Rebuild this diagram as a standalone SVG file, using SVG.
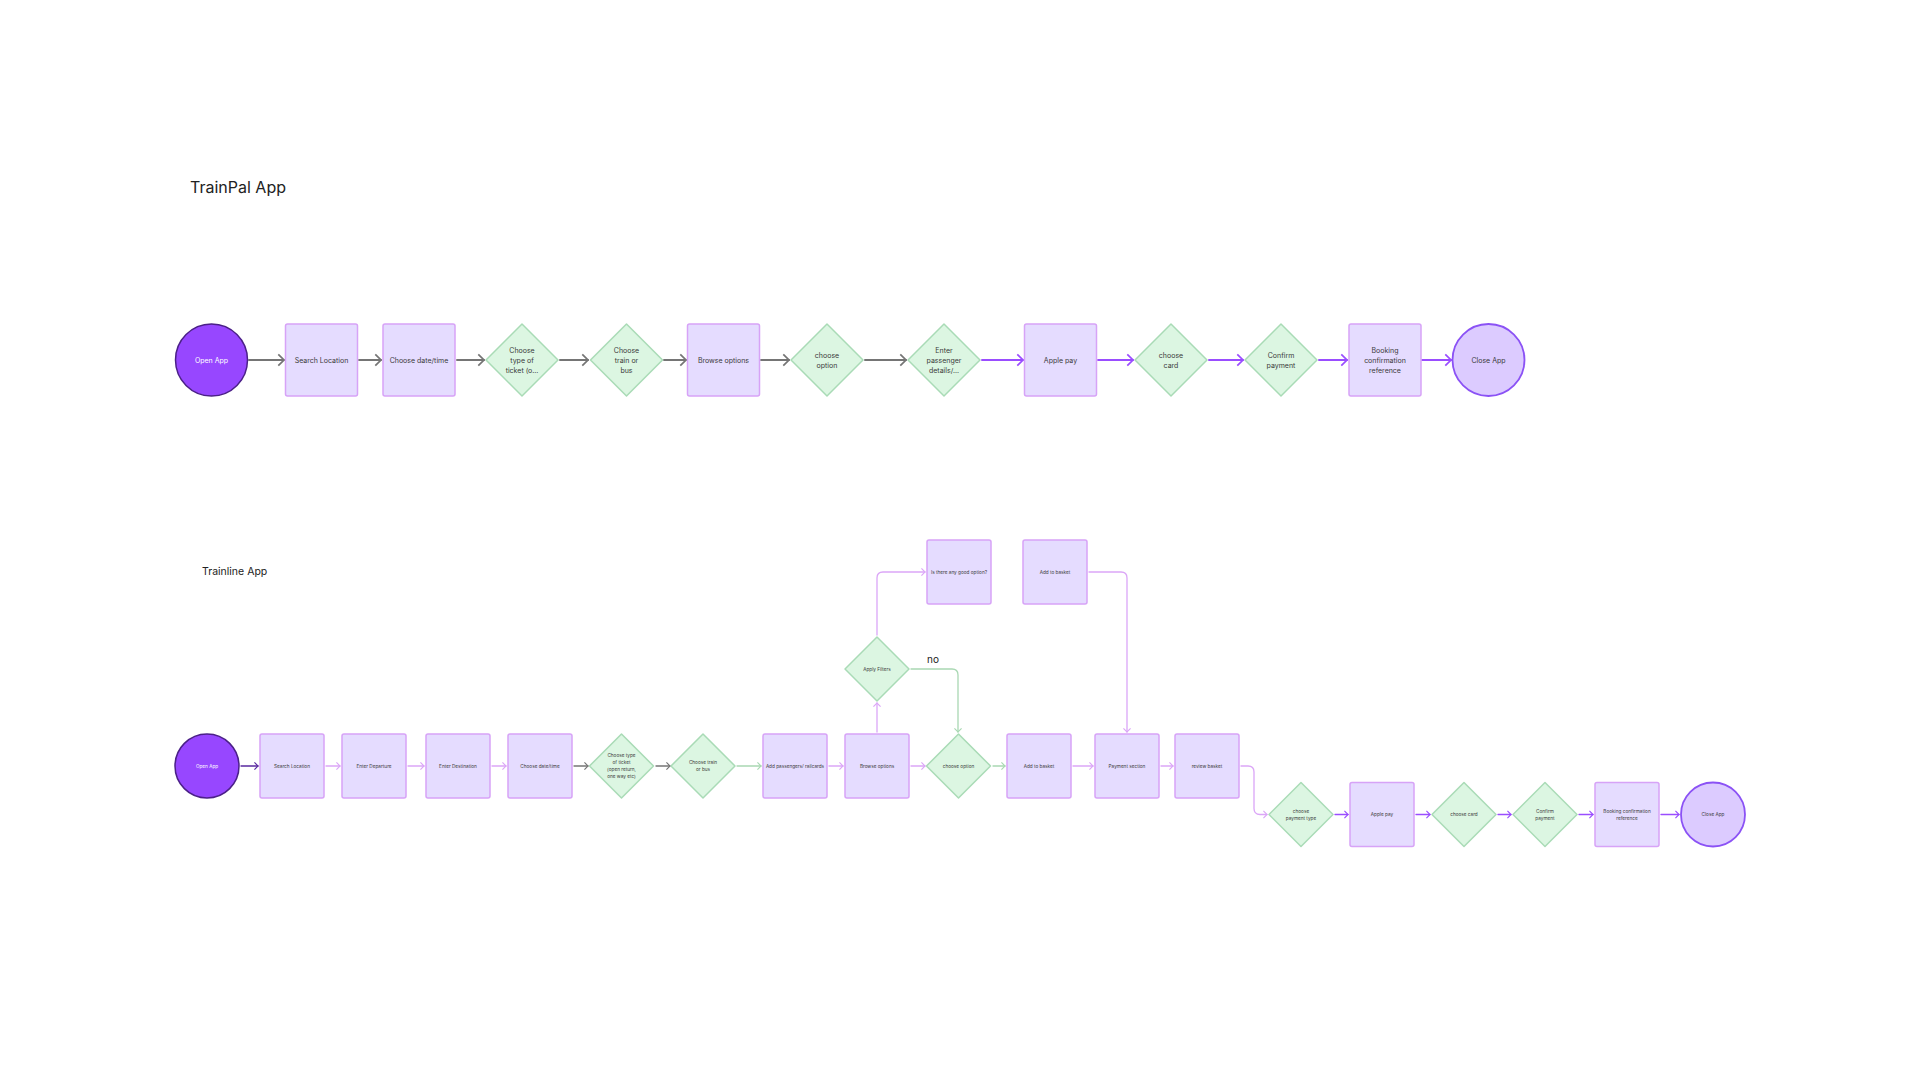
<svg xmlns="http://www.w3.org/2000/svg" width="1920" height="1080" viewBox="0 0 1920 1080">
<defs>
<style>
.box{fill:#e5dcff;stroke:#d7a3f7;stroke-width:1.5}
.dia{fill:#dcf6e2;stroke:#a9dbb6;stroke-width:1.5}
.start{fill:#9747ff;stroke:#4b2088;stroke-width:1.5}
.end{fill:#dccbff;stroke:#8b52f5;stroke-width:1.8}
.t{font-family:Inter,"Liberation Sans",sans-serif;fill:#3a3a3a;text-anchor:middle}
.t7{font-size:7px}
.t5{font-size:4.7px}
.w{fill:#ffffff}
.title{font-family:Inter,"Liberation Sans",sans-serif;fill:#222}
.c{fill:none;stroke-linecap:round;stroke-linejoin:round}
.gray{stroke:#757575;stroke-width:2}
.pur{stroke:#9a4dff;stroke-width:2}
.g2{stroke:#757575;stroke-width:1.3}
.p2{stroke:#9a4dff;stroke-width:1.3}
.lp{stroke:#dba6f7;stroke-width:1.3}
.gr{stroke:#a9d8b3;stroke-width:1.3}
.dp{stroke:#5a2aa0;stroke-width:1.3}
</style>
<marker id="mg" viewBox="0 0 7 12" refX="6" refY="6" markerWidth="8" markerHeight="13.7" markerUnits="userSpaceOnUse" orient="auto"><path d="M1,1 L6,6 L1,11" fill="none" stroke="#757575" stroke-width="1.5"/></marker>
<marker id="mp" viewBox="0 0 7 12" refX="6" refY="6" markerWidth="8" markerHeight="13.7" markerUnits="userSpaceOnUse" orient="auto"><path d="M1,1 L6,6 L1,11" fill="none" stroke="#9a4dff" stroke-width="1.5"/></marker>
<marker id="sg" viewBox="0 0 7 12" refX="6" refY="6" markerWidth="5" markerHeight="8.6" markerUnits="userSpaceOnUse" orient="auto"><path d="M1,1 L6,6 L1,11" fill="none" stroke="#757575" stroke-width="1.6"/></marker>
<marker id="sp" viewBox="0 0 7 12" refX="6" refY="6" markerWidth="5" markerHeight="8.6" markerUnits="userSpaceOnUse" orient="auto"><path d="M1,1 L6,6 L1,11" fill="none" stroke="#9a4dff" stroke-width="1.6"/></marker>
<marker id="slp" viewBox="0 0 7 12" refX="6" refY="6" markerWidth="5" markerHeight="8.6" markerUnits="userSpaceOnUse" orient="auto"><path d="M1,1 L6,6 L1,11" fill="none" stroke="#dba6f7" stroke-width="1.6"/></marker>
<marker id="sgr" viewBox="0 0 7 12" refX="6" refY="6" markerWidth="5" markerHeight="8.6" markerUnits="userSpaceOnUse" orient="auto"><path d="M1,1 L6,6 L1,11" fill="none" stroke="#a9d8b3" stroke-width="1.6"/></marker>
<marker id="sdp" viewBox="0 0 7 12" refX="6" refY="6" markerWidth="5" markerHeight="8.6" markerUnits="userSpaceOnUse" orient="auto"><path d="M1,1 L6,6 L1,11" fill="none" stroke="#5a2aa0" stroke-width="1.6"/></marker>
</defs>
<rect width="1920" height="1080" fill="#ffffff"/>

<text class="title" x="190" y="193" font-size="16">TrainPal App</text>
<text class="title" x="202" y="575" font-size="10.5">Trainline App</text>

<!-- connectors -->
<g id="connectors">
<path class="c gray" d="M249,360 H284" marker-end="url(#mg)"/>
<path class="c gray" d="M359,360 H381" marker-end="url(#mg)"/>
<path class="c gray" d="M457,360 H484" marker-end="url(#mg)"/>
<path class="c gray" d="M560,360 H588" marker-end="url(#mg)"/>
<path class="c gray" d="M664,360 H686" marker-end="url(#mg)"/>
<path class="c gray" d="M761,360 H789" marker-end="url(#mg)"/>
<path class="c gray" d="M865,360 H906" marker-end="url(#mg)"/>
<path class="c pur" d="M982,360 H1023" marker-end="url(#mp)"/>
<path class="c pur" d="M1098,360 H1133" marker-end="url(#mp)"/>
<path class="c pur" d="M1209,360 H1243" marker-end="url(#mp)"/>
<path class="c pur" d="M1319,360 H1347" marker-end="url(#mp)"/>
<path class="c pur" d="M1422,360 H1451" marker-end="url(#mp)"/>

<path class="c dp" d="M241,766 H258" marker-end="url(#sdp)"/>
<path class="c lp" d="M326,766 H340" marker-end="url(#slp)"/>
<path class="c lp" d="M408,766 H424" marker-end="url(#slp)"/>
<path class="c lp" d="M492,766 H506" marker-end="url(#slp)"/>
<path class="c g2" d="M574,766 H588" marker-end="url(#sg)"/>
<path class="c g2" d="M656,766 H670" marker-end="url(#sg)"/>
<path class="c gr" d="M737,766 H761" marker-end="url(#sgr)"/>
<path class="c lp" d="M829,766 H843" marker-end="url(#slp)"/>
<path class="c lp" d="M911,766 H925" marker-end="url(#slp)"/>
<path class="c gr" d="M993,766 H1005" marker-end="url(#sgr)"/>
<path class="c lp" d="M1073,766 H1093" marker-end="url(#slp)"/>
<path class="c lp" d="M1161,766 H1173" marker-end="url(#slp)"/>
<path class="c lp" d="M1241,766 H1248 Q1254,766 1254,772 V808.5 Q1254,814.5 1260,814.5 H1267" marker-end="url(#slp)"/>
<path class="c p2" d="M1335,814.5 H1348" marker-end="url(#sp)"/>
<path class="c p2" d="M1416,814.5 H1430" marker-end="url(#sp)"/>
<path class="c p2" d="M1498,814.5 H1511" marker-end="url(#sp)"/>
<path class="c p2" d="M1579,814.5 H1593" marker-end="url(#sp)"/>
<path class="c p2" d="M1661,814.5 H1679" marker-end="url(#sp)"/>
<path class="c lp" d="M877,732 V703" marker-end="url(#slp)"/>
<path class="c lp" d="M877,635 V578 Q877,572 883,572 H925" marker-end="url(#slp)"/>
<path class="c gr" d="M911,669 H952 Q958,669 958,675 V732" marker-end="url(#sgr)"/>
<path class="c lp" d="M1089,572 H1121 Q1127,572 1127,578 V732" marker-end="url(#slp)"/>
<text class="title" x="927" y="663" font-size="10">no</text>
</g>

<!-- TrainPal nodes -->
<g id="tp-open"><circle class="start" cx="211.5" cy="360" r="36"/><text class="t t7 w" x="211.5" y="362.5">Open App</text></g>
<g id="tp-search"><rect class="box" x="285.5" y="324" width="72" height="72" rx="2"/><text class="t t7" x="321.5" y="362.5">Search Location</text></g>
<g id="tp-date"><rect class="box" x="383" y="324" width="72" height="72" rx="2"/><text class="t t7" x="419" y="362.5">Choose date/time</text></g>
<g id="tp-ticket"><path class="dia" d="M522,324 L558,360 L522,396 L486,360 Z" stroke-linejoin="round"/><text class="t t7" x="522" y="352.5">Choose</text><text class="t t7" x="522" y="362.5">type of</text><text class="t t7" x="522" y="372.5">ticket (o...</text></g>
<g id="tp-train"><path class="dia" d="M626.5,324 L662.5,360 L626.5,396 L590.5,360 Z" stroke-linejoin="round"/><text class="t t7" x="626.5" y="352.5">Choose</text><text class="t t7" x="626.5" y="362.5">train or</text><text class="t t7" x="626.5" y="372.5">bus</text></g>
<g id="tp-browse"><rect class="box" x="687.5" y="324" width="72" height="72" rx="2"/><text class="t t7" x="723.5" y="362.5">Browse options</text></g>
<g id="tp-option"><path class="dia" d="M827,324 L863,360 L827,396 L791,360 Z" stroke-linejoin="round"/><text class="t t7" x="827" y="357.5">choose</text><text class="t t7" x="827" y="367.5">option</text></g>
<g id="tp-passenger"><path class="dia" d="M944,324 L980,360 L944,396 L908,360 Z" stroke-linejoin="round"/><text class="t t7" x="944" y="352.5">Enter</text><text class="t t7" x="944" y="362.5">passenger</text><text class="t t7" x="944" y="372.5">details/...</text></g>
<g id="tp-apple"><rect class="box" x="1024.5" y="324" width="72" height="72" rx="2"/><text class="t t7" x="1060.5" y="362.5">Apple pay</text></g>
<g id="tp-card"><path class="dia" d="M1171,324 L1207,360 L1171,396 L1135,360 Z" stroke-linejoin="round"/><text class="t t7" x="1171" y="357.5">choose</text><text class="t t7" x="1171" y="367.5">card</text></g>
<g id="tp-confirm"><path class="dia" d="M1281,324 L1317,360 L1281,396 L1245,360 Z" stroke-linejoin="round"/><text class="t t7" x="1281" y="357.5">Confirm</text><text class="t t7" x="1281" y="367.5">payment</text></g>
<g id="tp-booking"><rect class="box" x="1349" y="324" width="72" height="72" rx="2"/><text class="t t7" x="1385" y="352.5">Booking</text><text class="t t7" x="1385" y="362.5">confirmation</text><text class="t t7" x="1385" y="372.5">reference</text></g>
<g id="tp-close"><circle class="end" cx="1488.5" cy="360" r="36"/><text class="t t7" x="1488.5" y="362.5">Close App</text></g>

<!-- Trainline nodes -->
<g id="tl-open"><circle class="start" cx="207" cy="766" r="32"/><text class="t t5 w" x="207" y="767.7">Open App</text></g>
<g id="tl-search"><rect class="box" x="260" y="734" width="64" height="64" rx="2"/><text class="t t5" x="292" y="767.7">Search Location</text></g>
<g id="tl-departure"><rect class="box" x="342" y="734" width="64" height="64" rx="2"/><text class="t t5" x="374" y="767.7">Enter Departure</text></g>
<g id="tl-destination"><rect class="box" x="426" y="734" width="64" height="64" rx="2"/><text class="t t5" x="458" y="767.7">Enter Destination</text></g>
<g id="tl-date"><rect class="box" x="508" y="734" width="64" height="64" rx="2"/><text class="t t5" x="540" y="767.7">Choose date/time</text></g>
<g id="tl-ticket"><path class="dia" d="M621.5,734 L653.5,766 L621.5,798 L589.5,766 Z" stroke-linejoin="round"/><text class="t t5" x="621.5" y="757.2">Choose type</text><text class="t t5" x="621.5" y="764.2">of ticket</text><text class="t t5" x="621.5" y="771.2">(open return,</text><text class="t t5" x="621.5" y="778.2">one way etc)</text></g>
<g id="tl-train"><path class="dia" d="M703,734 L735,766 L703,798 L671,766 Z" stroke-linejoin="round"/><text class="t t5" x="703" y="764.2">Choose train</text><text class="t t5" x="703" y="771.2">or bus</text></g>
<g id="tl-passengers"><rect class="box" x="763" y="734" width="64" height="64" rx="2"/><text class="t t5" x="795" y="767.7">Add passengers/ railcards</text></g>
<g id="tl-browse"><rect class="box" x="845" y="734" width="64" height="64" rx="2"/><text class="t t5" x="877" y="767.7">Browse options</text></g>
<g id="tl-option"><path class="dia" d="M958.5,734 L990.5,766 L958.5,798 L926.5,766 Z" stroke-linejoin="round"/><text class="t t5" x="958.5" y="767.7">choose option</text></g>
<g id="tl-basket"><rect class="box" x="1007" y="734" width="64" height="64" rx="2"/><text class="t t5" x="1039" y="767.7">Add to basket</text></g>
<g id="tl-payment"><rect class="box" x="1095" y="734" width="64" height="64" rx="2"/><text class="t t5" x="1127" y="767.7">Payment section</text></g>
<g id="tl-review"><rect class="box" x="1175" y="734" width="64" height="64" rx="2"/><text class="t t5" x="1207" y="767.7">review basket</text></g>
<g id="tl-filters"><path class="dia" d="M877,637 L909,669 L877,701 L845,669 Z" stroke-linejoin="round"/><text class="t t5" x="877" y="670.7">Apply Filters</text></g>
<g id="tl-good"><rect class="box" x="927" y="540" width="64" height="64" rx="2"/><text class="t t5" x="959" y="573.7">Is there any good option?</text></g>
<g id="tl-basket2"><rect class="box" x="1023" y="540" width="64" height="64" rx="2"/><text class="t t5" x="1055" y="573.7">Add to basket</text></g>
<g id="tl-paytype"><path class="dia" d="M1301,782.5 L1333,814.5 L1301,846.5 L1269,814.5 Z" stroke-linejoin="round"/><text class="t t5" x="1301" y="812.7">choose</text><text class="t t5" x="1301" y="819.7">payment type</text></g>
<g id="tl-apple"><rect class="box" x="1350" y="782.5" width="64" height="64" rx="2"/><text class="t t5" x="1382" y="816.2">Apple pay</text></g>
<g id="tl-card"><path class="dia" d="M1464,782.5 L1496,814.5 L1464,846.5 L1432,814.5 Z" stroke-linejoin="round"/><text class="t t5" x="1464" y="816.2">choose card</text></g>
<g id="tl-confirm"><path class="dia" d="M1545,782.5 L1577,814.5 L1545,846.5 L1513,814.5 Z" stroke-linejoin="round"/><text class="t t5" x="1545" y="812.7">Confirm</text><text class="t t5" x="1545" y="819.7">payment</text></g>
<g id="tl-booking"><rect class="box" x="1595" y="782.5" width="64" height="64" rx="2"/><text class="t t5" x="1627" y="812.7">Booking confirmation</text><text class="t t5" x="1627" y="819.7">reference</text></g>
<g id="tl-close"><circle class="end" cx="1713" cy="814.5" r="32"/><text class="t t5" x="1713" y="816.2">Close App</text></g>
</svg>
